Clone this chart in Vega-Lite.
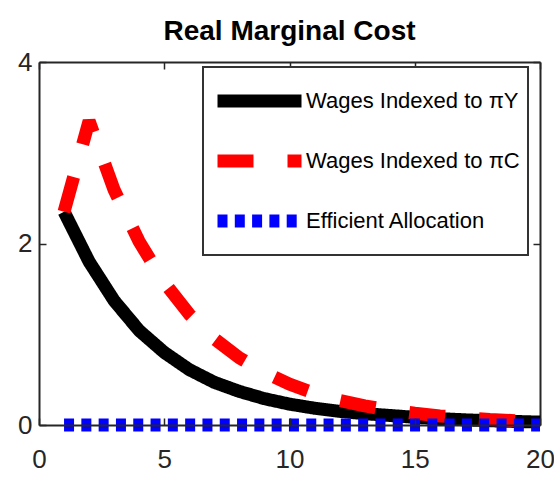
{
  "$schema": "https://vega.github.io/schema/vega-lite/v6.json",
  "width": 501,
  "height": 363,
  "autosize": {"type": "none"},
  "padding": {"left": 39, "top": 62, "right": 14, "bottom": 59},
  "background": "white",
  "title": {
    "text": "Real Marginal Cost",
    "font": "Liberation Sans",
    "fontSize": 28,
    "fontWeight": "bold",
    "color": "#000000",
    "anchor": "middle",
    "offset": 3
  },
  "config": {
    "view": {"stroke": null},
    "font": "Liberation Sans",
    "legend": {"strokeWidth": 2}
  },
  "data": {
    "values": [
      {"period": 1, "value": 2.35, "series": "Wages Indexed to πY"},
      {"period": 2, "value": 1.80, "series": "Wages Indexed to πY"},
      {"period": 3, "value": 1.37, "series": "Wages Indexed to πY"},
      {"period": 4, "value": 1.04, "series": "Wages Indexed to πY"},
      {"period": 5, "value": 0.80, "series": "Wages Indexed to πY"},
      {"period": 6, "value": 0.61, "series": "Wages Indexed to πY"},
      {"period": 7, "value": 0.47, "series": "Wages Indexed to πY"},
      {"period": 8, "value": 0.37, "series": "Wages Indexed to πY"},
      {"period": 9, "value": 0.29, "series": "Wages Indexed to πY"},
      {"period": 10, "value": 0.23, "series": "Wages Indexed to πY"},
      {"period": 11, "value": 0.185, "series": "Wages Indexed to πY"},
      {"period": 12, "value": 0.15, "series": "Wages Indexed to πY"},
      {"period": 13, "value": 0.125, "series": "Wages Indexed to πY"},
      {"period": 14, "value": 0.105, "series": "Wages Indexed to πY"},
      {"period": 15, "value": 0.085, "series": "Wages Indexed to πY"},
      {"period": 16, "value": 0.07, "series": "Wages Indexed to πY"},
      {"period": 17, "value": 0.057, "series": "Wages Indexed to πY"},
      {"period": 18, "value": 0.047, "series": "Wages Indexed to πY"},
      {"period": 19, "value": 0.039, "series": "Wages Indexed to πY"},
      {"period": 20, "value": 0.032, "series": "Wages Indexed to πY"},
      {"period": 1, "value": 2.35, "series": "Wages Indexed to πC"},
      {"period": 2, "value": 3.35, "series": "Wages Indexed to πC"},
      {"period": 3, "value": 2.59, "series": "Wages Indexed to πC"},
      {"period": 4, "value": 2.02, "series": "Wages Indexed to πC"},
      {"period": 5, "value": 1.57, "series": "Wages Indexed to πC"},
      {"period": 6, "value": 1.22, "series": "Wages Indexed to πC"},
      {"period": 7, "value": 0.95, "series": "Wages Indexed to πC"},
      {"period": 8, "value": 0.74, "series": "Wages Indexed to πC"},
      {"period": 9, "value": 0.58, "series": "Wages Indexed to πC"},
      {"period": 10, "value": 0.45, "series": "Wages Indexed to πC"},
      {"period": 11, "value": 0.35, "series": "Wages Indexed to πC"},
      {"period": 12, "value": 0.27, "series": "Wages Indexed to πC"},
      {"period": 13, "value": 0.21, "series": "Wages Indexed to πC"},
      {"period": 14, "value": 0.165, "series": "Wages Indexed to πC"},
      {"period": 15, "value": 0.13, "series": "Wages Indexed to πC"},
      {"period": 16, "value": 0.10, "series": "Wages Indexed to πC"},
      {"period": 17, "value": 0.078, "series": "Wages Indexed to πC"},
      {"period": 18, "value": 0.061, "series": "Wages Indexed to πC"},
      {"period": 19, "value": 0.047, "series": "Wages Indexed to πC"},
      {"period": 20, "value": 0.037, "series": "Wages Indexed to πC"},
      {"period": 1, "value": 0, "series": "Efficient Allocation"},
      {"period": 2, "value": 0, "series": "Efficient Allocation"},
      {"period": 3, "value": 0, "series": "Efficient Allocation"},
      {"period": 4, "value": 0, "series": "Efficient Allocation"},
      {"period": 5, "value": 0, "series": "Efficient Allocation"},
      {"period": 6, "value": 0, "series": "Efficient Allocation"},
      {"period": 7, "value": 0, "series": "Efficient Allocation"},
      {"period": 8, "value": 0, "series": "Efficient Allocation"},
      {"period": 9, "value": 0, "series": "Efficient Allocation"},
      {"period": 10, "value": 0, "series": "Efficient Allocation"},
      {"period": 11, "value": 0, "series": "Efficient Allocation"},
      {"period": 12, "value": 0, "series": "Efficient Allocation"},
      {"period": 13, "value": 0, "series": "Efficient Allocation"},
      {"period": 14, "value": 0, "series": "Efficient Allocation"},
      {"period": 15, "value": 0, "series": "Efficient Allocation"},
      {"period": 16, "value": 0, "series": "Efficient Allocation"},
      {"period": 17, "value": 0, "series": "Efficient Allocation"},
      {"period": 18, "value": 0, "series": "Efficient Allocation"},
      {"period": 19, "value": 0, "series": "Efficient Allocation"},
      {"period": 20, "value": 0, "series": "Efficient Allocation"}
    ]
  },
  "layer": [
    {
      "mark": {"type": "line", "strokeWidth": 13, "strokeCap": "butt", "strokeJoin": "bevel"},
      "encoding": {
        "x": {
          "field": "period", "type": "quantitative",
          "scale": {"domain": [0, 20], "nice": false, "zero": false},
          "axis": {
            "orient": "bottom", "values": [0, 5, 10, 15, 20], "format": "d", "title": null, "grid": false,
            "domainColor": "#262626", "domainWidth": 2, "tickColor": "#262626", "tickWidth": 1.5, "tickSize": -7,
            "labelFont": "Liberation Sans", "labelFontSize": 26, "labelColor": "#262626",
            "labelPadding": 28, "labelFlush": false, "labelOverlap": false, "zindex": 1
          }
        },
        "y": {
          "field": "value", "type": "quantitative",
          "scale": {"domain": [0, 4], "nice": false},
          "axis": {
            "orient": "left", "values": [0, 2, 4], "format": "d", "title": null, "grid": false,
            "domainColor": "#262626", "domainWidth": 2, "tickColor": "#262626", "tickWidth": 1.5, "tickSize": -7,
            "labelFont": "Liberation Sans", "labelFontSize": 26, "labelColor": "#262626",
            "labelPadding": 14, "labelFlush": false, "labelOverlap": false, "zindex": 1
          }
        },
        "color": {
          "field": "series", "type": "nominal",
          "scale": {
            "domain": ["Wages Indexed to πY", "Wages Indexed to πC", "Efficient Allocation"],
            "range": ["#000000", "#ff0000", "#0000ff"]
          },
          "legend": {
            "title": null, "orient": "none", "legendX": 164, "legendY": 5, "direction": "vertical",
            "symbolType": "stroke", "symbolSize": 7056, "symbolStrokeWidth": 13,
            "labelFont": "Liberation Sans", "labelFontSize": 22, "labelColor": "#000000",
            "labelOffset": -2, "labelLimit": 400, "padding": 8, "clipHeight": 52, "rowPadding": 8,
            "strokeColor": "#333333", "fillColor": "#ffffff"
          }
        },
        "strokeDash": {
          "field": "series", "type": "nominal",
          "scale": {
            "domain": ["Wages Indexed to πY", "Wages Indexed to πC", "Efficient Allocation"],
            "range": [[1, 0], [36, 34], [10, 7.3]]
          },
          "legend": {
            "title": null, "orient": "none", "legendX": 164, "legendY": 5, "direction": "vertical",
            "symbolType": "stroke", "symbolSize": 7056, "symbolStrokeWidth": 13,
            "labelFont": "Liberation Sans", "labelFontSize": 22, "labelColor": "#000000",
            "labelOffset": -2, "labelLimit": 400, "padding": 8, "clipHeight": 52, "rowPadding": 8,
            "strokeColor": "#333333", "fillColor": "#ffffff"
          }
        }
      }
    },
    {
      "mark": {"type": "line", "opacity": 0},
      "encoding": {
        "x": {
          "field": "period", "type": "quantitative",
          "scale": {"domain": [0, 20], "nice": false, "zero": false},
          "axis": {
            "orient": "top", "values": [0, 5, 10, 15, 20], "title": null, "grid": false, "labels": false,
            "domainColor": "#262626", "domainWidth": 2, "tickColor": "#262626", "tickWidth": 1.5, "tickSize": -7
          }
        },
        "y": {
          "field": "value", "type": "quantitative",
          "scale": {"domain": [0, 4], "nice": false},
          "axis": {
            "orient": "right", "values": [0, 2, 4], "title": null, "grid": false, "labels": false,
            "domainColor": "#262626", "domainWidth": 2, "tickColor": "#262626", "tickWidth": 1.5, "tickSize": -7
          }
        },
        "detail": {"field": "series", "type": "nominal"}
      }
    }
  ],
  "resolve": {"axis": {"x": "independent", "y": "independent"}}
}
